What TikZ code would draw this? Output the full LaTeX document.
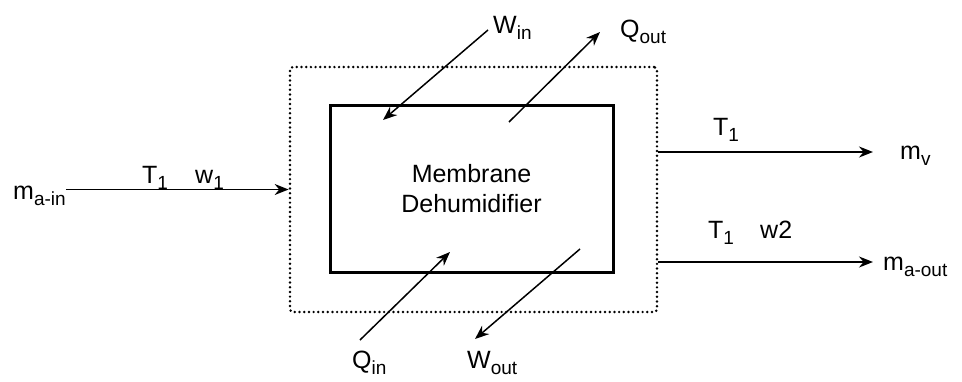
\documentclass[tikz,border=0pt]{standalone}
\usepackage{fontspec}
\setmainfont{Liberation Sans}
\usetikzlibrary{arrows.meta}
\newcommand{\lowidx}[1]{\raisebox{-6pt}{\fontsize{19}{19}\selectfont #1}}

\begin{document}
\begin{tikzpicture}[x=1pt,y=-1pt,
  every node/.style={font=\fontsize{25}{30}\selectfont},
  lbl/.style={inner sep=0pt,anchor=base west},
  flow/.style={line width=1.5pt,-{Stealth[length=14pt,width=11pt]}}]
\useasboundingbox (0,0) rectangle (962,381);
% control volume and the unit inside it
\node [draw,line width=2.7pt,line cap=round,dash pattern=on 0pt off 4.7pt,
  rounded corners=3pt,minimum width=367pt,minimum height=245pt] (cv) at (473.5,189.5) {};
\node [draw,line width=3pt,minimum width=283pt,minimum height=167pt,align=center]
  (unit) at (471.5,188.5) {Membrane\\Dehumidifier};

% stream labels
\node [lbl] (ain) at (13,199) {m\lowidx{a-in}};
\node [lbl] (tin) at (142,183) {T\lowidx{1}};
\node [lbl] (win) at (195,183) {w\lowidx{1}};
\node [lbl] (mv) at (900,159) {m\lowidx{v}};
\node [lbl] (tv) at (713,135) {T\lowidx{1}};
\node [lbl] (aout) at (883,270) {m\lowidx{a-out}};
\node [lbl] (tout) at (708,238) {T\lowidx{1}};
\node [lbl] (wout) at (760,238) {w2};

% work and heat labels
\node [lbl] (Win) at (493,33) {W\lowidx{in}};
\node [lbl] (Qout) at (620,37) {Q\lowidx{out}};
\node [lbl] (Qin) at (352,368) {Q\lowidx{in}};
\node [lbl] (Wout) at (467,368) {W\lowidx{out}};

% free ends of the arrows
\coordinate (vend) at (873,152);
\coordinate (aend) at (873,262);
\coordinate (w1) at (488,30);   \coordinate (w2) at (383,120);
\coordinate (q1) at (509,122);  \coordinate (q2) at (600,32);
\coordinate (q3) at (360,340);  \coordinate (q4) at (450,252);
\coordinate (w3) at (580,249);  \coordinate (w4) at (475,339);

\draw [flow] (ain.east |- cv.west) -- (cv.west);
\draw [flow] (cv.east |- vend) -- (vend);
\draw [flow] (cv.east |- aend) -- (aend);
\draw [flow] (w1) -- (w2);
\draw [flow] (q1) -- (q2);
\draw [flow] (q3) -- (q4);
\draw [flow] (w3) -- (w4);
\end{tikzpicture}
\end{document}
